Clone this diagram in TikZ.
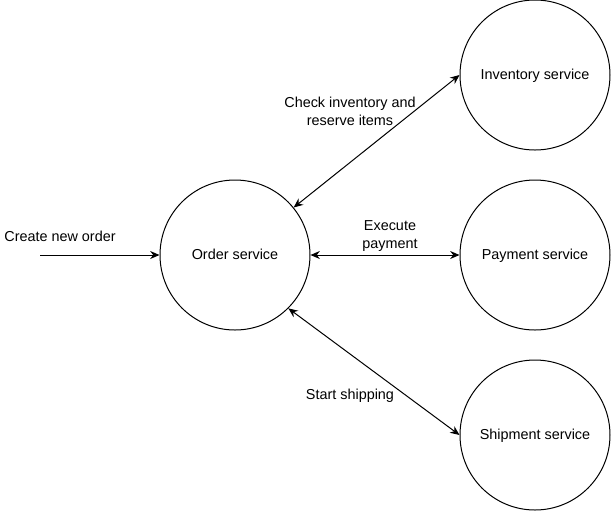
\documentclass[tikz,border=0pt]{standalone}
\usepackage{fontspec}
\setmainfont{Liberation Sans}
\usetikzlibrary{arrows.meta,positioning}

\begin{document}
\begin{tikzpicture}[x=.75pt,y=-.75pt,line width=.75pt,
    font=\fontsize{10.8}{13.5}\selectfont,
    service/.style={draw,circle,minimum size=112.5pt,inner sep=0pt,text height=7.6pt,text depth=1.4pt},
    msg/.style={align=center},
    link/.style={{Stealth[length=7pt,width=6pt]}-{Stealth[length=7pt,width=6pt]}}]
  \useasboundingbox (0,0) rectangle (611,512);
  % services
  \node[service] (order) at (235,255) {Order service};
  \node[service] (inv)   at (535,75)  {Inventory service};
  \node[service] (pay)   at (535,255) {Payment service};
  \node[service] (ship)  at (535,435) {Shipment service};
  % incoming request
  \coordinate (client) at (40,255);
  \draw[-{Stealth[length=7pt,width=6pt]}] (client) -- (order.west);
  \node[msg] (create) at (60,236) {Create new order};
  % calls between services
  \draw[link] (order.39) -- (inv.west);
  \draw[link] (order.east) -- (pay.west);
  \draw[link] (order.-45) -- (ship.west);
  \node[msg] (check) at (350,111) {Check inventory and\\reserve items};
  \node[msg] (exec)  at (390,236) {Execute\\payment};
  \node[msg] (start) at (350,396) {Start shipping};
\end{tikzpicture}
\end{document}
